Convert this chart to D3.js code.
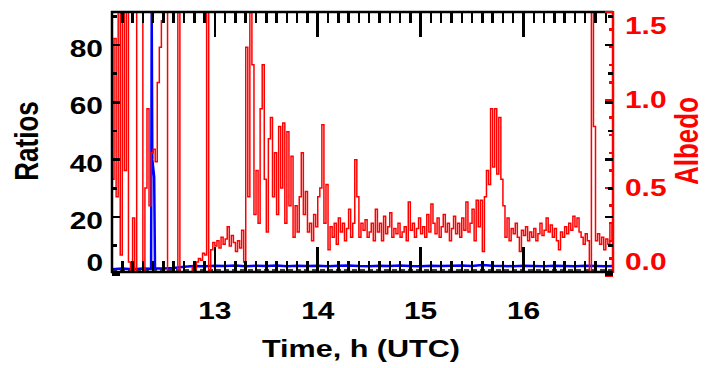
<!DOCTYPE html>
<html>
<head>
<meta charset="utf-8">
<script src="https://d3js.org/d3.v7.min.js"></script>
<style>
  body { margin: 0; background: #fff; }
  #chart { position: relative; width: 706px; height: 368px; }
  #chart svg { position: absolute; left: 0; top: 0; }
  .tk { position: absolute; }
  text { font-family: "Liberation Sans", Arial, sans-serif; font-weight: bold; }
</style>
</head>
<body>
<div id="chart"></div>
<script>
// albedo, one reading every 0.02 h from 12.00 UTC
var albedoStart = 12.0, albedoStep = 0.02;
var albedo = [
  0.55, 1.35, 0.45, 2.0, 0.12, 1.9, 0.6, 1.8, 0.08, -0.5,
  0.33, -0.5, 2.0, 2.0, 2.0, -0.5, 0.5, 0.95, 0.4, 0.7,
  0.72, 0.65, 1.1, 1.3, 1.45, 1.6, 1.7, -0.5, -0.5, -0.5,
  -0.5, -0.5, 2.0, -0.5, -0.5, -0.5, -0.5, -0.5, 0.02, 0.05,
  0.04, 0.08, 0.1, 0.09, 0.13, 0.12, 2.0, -0.3, 0.15, 0.19,
  0.17, 0.2, 0.16, 0.22, 0.18, 0.21, 0.28, 0.17, 0.23, 0.19,
  0.14, 0.2, 0.16, 0.26, 0.08, 1.3, 0.45, 2.0, 1.2, 0.35,
  0.6, 0.3, 0.95, 1.2, 0.55, 0.25, 0.78, 0.9, 0.45, 0.7,
  0.35, 0.85, 0.5, 0.87, 0.3, 0.82, 0.4, 0.68, 0.22, 0.4,
  0.25, 0.45, 0.7, 0.35, 0.48, 0.25, 0.3, 0.2, 0.35, 0.28,
  0.45, 0.5, 0.86, 0.3, 0.52, 0.15, 0.28, 0.22, 0.3, 0.18,
  0.33, 0.25, 0.3, 0.2, 0.27, 0.38, 0.22, 0.3, 0.66, 0.45,
  0.22, 0.3, 0.26, 0.32, 0.22, 0.25, 0.3, 0.2, 0.38, 0.25,
  0.3, 0.2, 0.34, 0.24, 0.28, 0.36, 0.22, 0.27, 0.24, 0.3,
  0.22, 0.25, 0.28, 0.2, 0.42, 0.26, 0.3, 0.22, 0.27, 0.33,
  0.24, 0.28, 0.22, 0.35, 0.25, 0.41, 0.3, 0.24, 0.33, 0.22,
  0.28, 0.35, 0.25, 0.3, 0.2, 0.27, 0.34, 0.24, 0.3, 0.22,
  0.33, 0.26, 0.42, 0.25, 0.3, 0.38, 0.2, 0.43, 0.28, 0.43,
  0.14, 0.45, 0.6, 0.52, 0.95, 0.62, 0.95, 0.58, 0.9, 0.55,
  0.4, 0.22, 0.33, 0.2, 0.27, 0.24, 0.3, 0.22, 0.14, 0.26,
  0.23, 0.28, 0.2, 0.25, 0.22, 0.27, 0.2, 0.24, 0.3, 0.23,
  0.26, 0.33, 0.25, 0.29, 0.22, 0.27, 0.2, 0.15, 0.25, 0.22,
  0.28, 0.24, 0.3, 0.26, 0.34, 0.28, 0.33, 0.25, 0.22, 0.18,
  0.24, 0.2, -0.05, 2.0, 0.85, 0.2, 0.24, 0.18, 0.22, 0.15,
  0.21, 0.18, 0.3, 0.2
];

// ratios (blue)
var ratioTime = [12.00, 12.10, 12.20, 12.30, 12.38, 12.386, 12.392, 12.41, 12.418, 12.50,
  12.60, 12.70, 12.80, 12.90, 13.00, 13.10, 13.20, 13.30, 13.40, 13.50,
  13.60, 13.70, 13.80, 13.90, 14.00, 14.10, 14.20, 14.30, 14.40, 14.50,
  14.60, 14.70, 14.80, 14.90, 15.00, 15.10, 15.20, 15.30, 15.40, 15.50,
  15.60, 15.70, 15.80, 15.90, 16.00, 16.10, 16.20, 16.30, 16.40, 16.50,
  16.60, 16.70, 16.80, 16.87];
var ratioValues = [1.8, 2.0, 1.8, 2.0, 1.9, 100, 40, 34, 2.0, 2.0,
  2.2, 2.6, 2.9, 2.8, 3.0, 2.9, 3.1, 2.8, 3.0, 2.9,
  3.1, 2.8, 3.0, 2.9, 3.0, 2.8, 3.0, 3.1, 2.9, 2.8,
  3.0, 2.9, 3.1, 2.9, 2.8, 3.0, 2.9, 3.0, 3.1, 2.9,
  3.2, 3.0, 2.9, 2.8, 3.0, 2.9, 2.8, 3.0, 2.9, 2.8,
  3.0, 2.9, 2.8, 2.9];

// second ratio (dashed black)
var ratio2Time = [12.00, 16.87];
var ratio2Values = [1.5, 1.5];

var xTicks = [13, 14, 15, 16];
var ratioTicks = [0, 20, 40, 60, 80];
var ratioMinor = [10, 30, 50, 70, 90];
var albedoTicks = [0.0, 0.5, 1.0, 1.5];

var W = 706, H = 368;
var pLeft = 112, pRight = 613, pTop = 12, pBottom = 272;
var sx = 1.3; // glyphs are stretched sideways in the original

var chart = d3.select("#chart");
var svg = chart.append("svg")
    .attr("width", W).attr("height", H);

var x = d3.scaleLinear().domain([12.0, 16.87]).range([pLeft, pRight]);
var yL = d3.scaleLinear().domain([0.8, 91.5]).range([pBottom, pTop]);
var yR = d3.scaleLinear().domain([0.023, 1.5]).range([pBottom, pTop]);
// off-scale readings are pinned to the frame, which is drawn over them
var yLc = yL.copy().clamp(true);
var yRc = yR.copy().clamp(true);

var lineOf = function(ts, vs, yScale) {
  return d3.line().x(d => x(d[0])).y(d => yScale(d[1]))(ts.map(function(t, i) { return [t, vs[i]]; }));
};

// dashed ratio
svg.append("path")
  .attr("d", lineOf(ratio2Time, ratio2Values, yLc))
  .attr("fill", "none").attr("stroke", "#000")
  .attr("stroke-width", 1.5).attr("stroke-dasharray", "5,3");

// ratio
svg.append("path")
  .attr("d", lineOf(ratioTime, ratioValues, yLc))
  .attr("fill", "none").attr("stroke", "#0000ff")
  .attr("stroke-width", 2.5);

// albedo
svg.append("path")
  .attr("d", d3.line()
      .curve(d3.curveStepAfter)
      .x((d, i) => x(albedoStart + i * albedoStep))
      .y(d => yRc(d))(albedo))
  .attr("fill", "none").attr("stroke", "#ff0000")
  .attr("stroke-width", 1.5);

// frame
svg.append("path").attr("fill", "none").attr("stroke", "#ff0000").attr("stroke-width", 2.5)
  .attr("d", "M" + pRight + "," + (pTop - 1) + "V" + (pBottom + 1));
svg.append("path").attr("fill", "none").attr("stroke", "#000").attr("stroke-width", 2.5)
  .attr("d", "M" + pRight + "," + pTop + "H" + pLeft + "V" + pBottom + "H" + pRight);

// labels
function label(txt, px, py, anchor, size, color, rot) {
  svg.append("text")
    .attr("transform", "translate(" + px + "," + py + ") scale(" + sx + ",1)" + (rot ? " rotate(-90)" : ""))
    .attr("text-anchor", anchor)
    .attr("font-size", size)
    .attr("fill", color)
    .text(txt);
}
xTicks.forEach(function(d) { label(d3.format("d")(d), x(d), 318.5, "middle", 23, "#000"); });
ratioTicks.forEach(function(d) {
  label(d3.format("d")(d), 103, Math.min(yL(d) + 4, pBottom - 9) + 8, "end", 23, "#000");
});
albedoTicks.forEach(function(d) {
  var c = Math.max(pTop + 14, Math.min(yR(d), pBottom - 10));
  label(d3.format(".1f")(d), 625, c + 8, "start", 23, "#ff0000");
});
label("Time, h (UTC)", 361, 357, "middle", 23.5, "#000");
label("Ratios", 38, 141, "middle", 26, "#000", true);
label("Albedo", 698, 141, "middle", 26, "#ff0000", true);

// ticks pointing inward, laid over the svg as small boxes
function vTicks(vals, y0, len, color) {
  vals.forEach(function(v) {
    chart.append("div").attr("class", "tk")
      .style("left", (x(v) - 1.25) + "px").style("width", "2.5px")
      .style("top", Math.min(y0, y0 + len) + "px").style("height", Math.abs(len) + "px")
      .style("background", color);
  });
}
function hTicks(vals, scale, x0, len, color) {
  vals.forEach(function(v) {
    chart.append("div").attr("class", "tk")
      .style("top", (scale(v) - 1.25) + "px").style("height", "2.5px")
      .style("left", Math.min(x0, x0 + len) + "px").style("width", Math.abs(len) + "px")
      .style("background", color);
  });
}
var xMinor = [];
for (var k = 121; k < 169; k++) { if (k % 10 !== 0) xMinor.push(k / 10); }
var rMinor = [];
for (var j = 1; j < 15; j++) { if (j % 5 !== 0) rMinor.push(j / 10); }

vTicks(xMinor, pBottom, -11, "#000");
vTicks(xTicks, pBottom, -25, "#000");
vTicks(xMinor, pTop, 11, "#000");
vTicks(xTicks, pTop, 25, "#000");
hTicks(rMinor, yR, pRight, -4, "#ff0000");
hTicks(albedoTicks, yR, pRight, -8, "#ff0000");
hTicks(ratioMinor, yL, pLeft, 5, "#000");
hTicks(ratioTicks, yL, pLeft, 8, "#000");
hTicks(ratioMinor, yL, pRight, -5, "#000");
hTicks(ratioTicks, yL, pRight, -8, "#000");
</script>
</body>
</html>
